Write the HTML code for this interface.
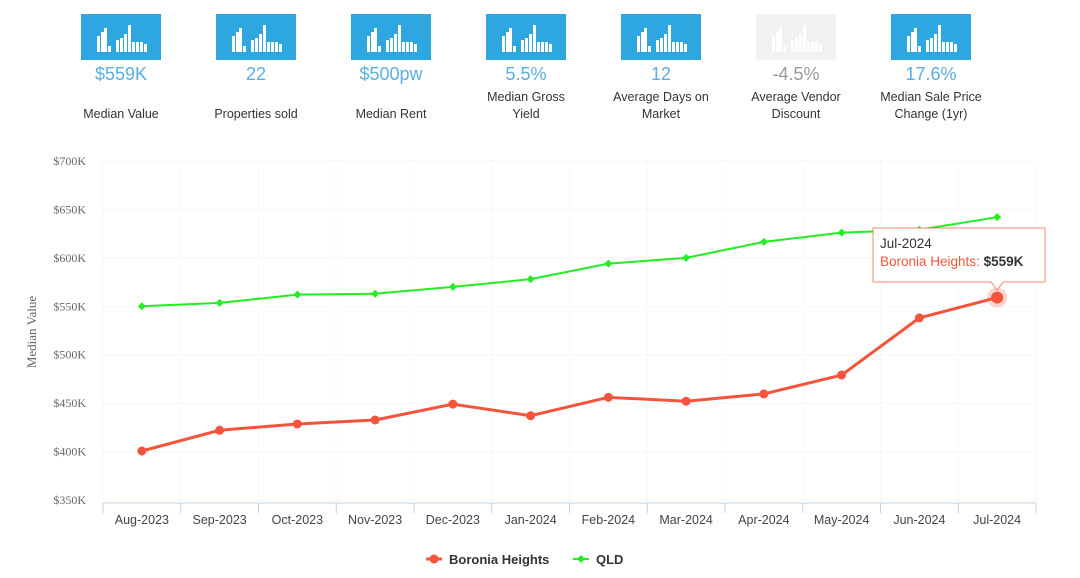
<!DOCTYPE html>
<html><head><meta charset="utf-8"><style>
body{margin:0;width:1080px;height:578px;background:#fff;font-family:"Liberation Sans",sans-serif;overflow:hidden;position:relative}
.tile{position:absolute;top:14px;width:130px;text-align:center}
.ico{width:80px;height:46px;background:#2ea6e0;margin:0 auto}
.ico.dim{background:#f1f1f1}
.val{color:#5aaee0;font-size:18px;margin-top:3px;line-height:22px}
.val.dim{color:#999}
.lab{color:#333;font-size:12.5px;line-height:17px;height:34px;display:flex;align-items:flex-end;justify-content:center;margin-top:4px}
</style></head><body>
<div id="tiles"></div>
<svg id="chart" width="1080" height="578" style="position:absolute;left:0;top:0"></svg>
<script>
const categories=["Aug-2023","Sep-2023","Oct-2023","Nov-2023","Dec-2023","Jan-2024","Feb-2024","Mar-2024","Apr-2024","May-2024","Jun-2024","Jul-2024"];
const boronia=[400.6,422,428.5,432.6,449,437,456,452,459.5,479,538,559];
const qld=[550,553.5,562,563,570,578,594,600,616.5,626,629,642];
const yTicks=[350,400,450,500,550,600,650,700];
const tileValues=["$559K","22","$500pw","5.5%","12","-4.5%","17.6%"];
const tileLabels=["Median Value","Properties sold","Median Rent","Median Gross Yield","Average Days on Market","Average Vendor Discount","Median Sale Price Change (1yr)"];

const tiles=document.getElementById('tiles');
const iconBars=[[10,16],[14,20],[17,24],[21,6],[29,12],[33,14],[37,18],[41,27],[45,10],[49,10],[53,10],[57,8]];
const labWidths=[130,130,130,100,110,110,120];
tileValues.forEach((v,i)=>{
  const d=document.createElement('div');d.className='tile';d.style.left=(56+i*135)+'px';
  
  
  const dim=i===5;
  let bars='';iconBars.forEach(b=>{bars+=`<rect x="${b[0]+6}" y="${38-b[1]}" width="3" height="${b[1]}" fill="#fff"/>`});
  d.innerHTML=`<div class="ico${dim?' dim':''}"><svg width="80" height="46">${bars}</svg></div><div class="val${dim?' dim':''}">${v}</div><div class="lab"><span style="max-width:${labWidths[i]}px">${tileLabels[i]}</span></div>`;
  tiles.appendChild(d);
});

const svg=document.getElementById('chart');const NS='http://www.w3.org/2000/svg';
function mk(t,a,p){const e=document.createElementNS(NS,t);for(const k in a)e.setAttribute(k,a[k]);(p||svg).appendChild(e);return e}
const L=103,R=1036,T=161,B=500;
const bw=(R-L)/categories.length;
const x=i=>L+bw*(i+0.5);
const y=v=>B-(v-350)/(700-350)*(B-T);
yTicks.forEach(t=>{
  const g=mk('line',{x1:L,x2:R,y1:y(t),y2:y(t),stroke:'#f5f5f5'});
  
  
  const tx=mk('text',{x:86,y:y(t)+4,'text-anchor':'end','font-size':12,fill:'#666','font-family':'Liberation Serif, serif'});
  tx.textContent='$'+t+'K';
  
  
});
for(let i=0;i<=categories.length;i++){
  mk('line',{x1:L+bw*i,x2:L+bw*i,y1:T,y2:B,stroke:'#f8f8f8'});
  mk('line',{x1:L+bw*i,x2:L+bw*i,y1:503,y2:513,stroke:'#c0d0e0'});
}
mk('line',{x1:L,x2:R,y1:503,y2:503,stroke:'#c0d0e0'});
categories.forEach((c,i)=>{
  const t=mk('text',{x:x(i),y:524,'text-anchor':'middle','font-size':12.5,fill:'#444'});
  t.textContent=c;
  
  
});
const yt=mk('text',{transform:'translate(36,332) rotate(-90)','text-anchor':'middle','font-size':13,fill:'#666','font-family':'Liberation Serif, serif'});
yt.textContent='Median Value';



const qp=mk('polyline',{points:qld.map((v,i)=>x(i)+','+y(v)).join(' '),fill:'none',stroke:'#22ee22','stroke-width':2});


qld.forEach((v,i)=>{const m=mk('path',{d:`M${x(i)} ${y(v)-4}l4 4l-4 4l-4 -4z`,fill:'#22ee22'});
  
  });
const bp=mk('polyline',{points:boronia.map((v,i)=>x(i)+','+y(v)).join(' '),fill:'none',stroke:'#f4543c','stroke-width':3});


boronia.forEach((v,i)=>{
  if(i===boronia.length-1) mk('circle',{cx:x(i),cy:y(v),r:10,fill:'#f4543c','fill-opacity':0.25});
  const m=mk('circle',{cx:x(i),cy:y(v),r:i===boronia.length-1?6:4.5,fill:'#f4543c'});
  
  
});
const li=boronia.length-1,tx0=x(li),ty0=y(boronia[li]);
const tg=mk('g',{});


mk('path',{d:`M873 228h172v54h-${1045-tx0-6}l-6 8l-6 -8h-${tx0-6-873}z`,fill:'#fff','fill-opacity':0.95,stroke:'#f4543c','stroke-opacity':0.7},tg);
const t1=mk('text',{x:880,y:248,'font-size':13.5,fill:'#333'},tg);t1.textContent='Jul-2024';
const t2=mk('text',{x:880,y:266,'font-size':13.5,fill:'#f4543c'},tg);t2.innerHTML='Boronia Heights: <tspan fill="#333" font-weight="bold">$559K</tspan>';
const lg=mk('g',{});


mk('line',{x1:426,x2:442,y1:559,y2:559,stroke:'#f4543c','stroke-width':3},lg);
mk('circle',{cx:434,cy:559,r:4.5,fill:'#f4543c'},lg);
const l1=mk('text',{x:449,y:564,'font-size':13,'font-weight':'bold',fill:'#333'},lg);l1.textContent='Boronia Heights';
mk('line',{x1:573,x2:589,y1:559,y2:559,stroke:'#22ee22','stroke-width':2},lg);
mk('path',{d:'M581 555l4 4l-4 4l-4 -4z',fill:'#22ee22'},lg);
const l2=mk('text',{x:596,y:564,'font-size':13,'font-weight':'bold',fill:'#333'},lg);l2.textContent='QLD';
</script>
</body></html>
